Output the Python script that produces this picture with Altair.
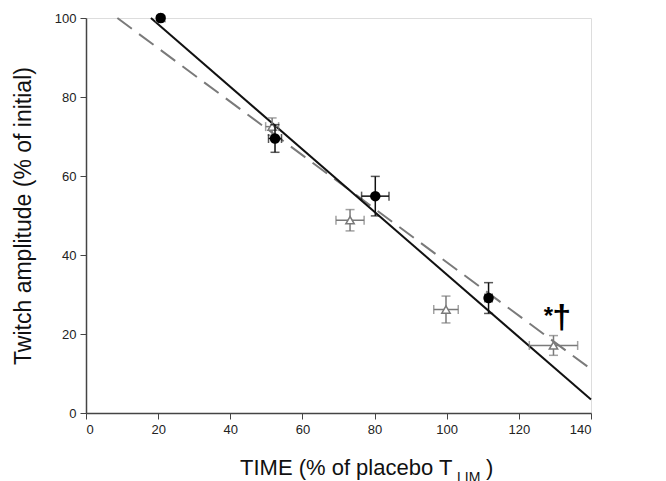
import altair as alt
import pandas as pd

# Filled circles (black)
circ_x = [20.7, 52.4, 80.2, 111.6]
circ_y = [100.0, 69.5, 54.9, 29.1]
circ_xerr = [0.6, 1.8, 3.8, 1.0]
circ_yerr = [0.6, 3.5, 5.0, 3.9]

# Open triangles (gray)
tri_x = [20.7, 51.6, 73.2, 99.8, 129.6]
tri_y = [100.0, 72.5, 48.8, 26.2, 17.1]
tri_xerr = [0.6, 1.8, 3.9, 3.4, 6.7]
tri_yerr = [0.6, 2.2, 2.7, 3.4, 2.5]

# Regression lines (end points)
solid_x = [18.0, 140.0]
solid_y = [100.0, 3.4]
dash_x = [8.7, 140.0]
dash_y = [100.0, 11.1]

x_ticks = [0, 20, 40, 60, 80, 100, 120, 140]
y_ticks = [0, 20, 40, 60, 80, 100]

# Significance annotation
ann_x = [128.2, 131.9]
ann_y = [24.3, 24.0]
ann_t = ["*", "†"]

FONT = "Liberation Sans"
GRAY = "#7a7a7a"

circ = pd.DataFrame({"x": circ_x, "y": circ_y,
                     "x1": [a - b for a, b in zip(circ_x, circ_xerr)],
                     "x2": [a + b for a, b in zip(circ_x, circ_xerr)],
                     "y1": [a - b for a, b in zip(circ_y, circ_yerr)],
                     "y2": [a + b for a, b in zip(circ_y, circ_yerr)]})
tri = pd.DataFrame({"x": tri_x, "y": tri_y,
                    "x1": [a - b for a, b in zip(tri_x, tri_xerr)],
                    "x2": [a + b for a, b in zip(tri_x, tri_xerr)],
                    "y1": [a - b for a, b in zip(tri_y, tri_yerr)],
                    "y2": [a + b for a, b in zip(tri_y, tri_yerr)]})
solid = pd.DataFrame({"x": solid_x, "y": solid_y})
dash = pd.DataFrame({"x": dash_x, "y": dash_y})

xs = alt.Scale(domain=[0, 140], nice=False, zero=False)
ys = alt.Scale(domain=[0, 100], nice=False, zero=False)

X = alt.X("x:Q", scale=xs, axis=alt.Axis(values=x_ticks, grid=False, title=None,
                                         labelFont=FONT, labelFontSize=13, labelColor="#222",
                                         domainColor="#444", tickColor="#444", tickSize=6,
                                         labelPadding=4, domainWidth=1.5))
Y = alt.Y("y:Q", scale=ys, axis=alt.Axis(values=y_ticks, grid=False,
                                         title="Twitch amplitude (% of initial)",
                                         titleFont=FONT, titleFontSize=23, titleFontWeight="normal",
                                         titleColor="#111", titlePadding=19,
                                         labelFont=FONT, labelFontSize=13, labelColor="#222",
                                         domainColor="#444", tickColor="#444", tickSize=6,
                                         labelPadding=4, domainWidth=1.5))


def errbars(df, color):
    base = alt.Chart(df)
    v = base.mark_rule(color=color, strokeWidth=1.5).encode(x="x:Q", y=alt.Y("y1:Q", scale=ys), y2="y2:Q")
    h = base.mark_rule(color=color, strokeWidth=1.5).encode(x=alt.X("x1:Q", scale=xs), x2="x2:Q", y="y:Q")
    vc1 = base.mark_tick(color=color, orient="horizontal", size=9, thickness=1.5).encode(x="x:Q", y="y1:Q")
    vc2 = base.mark_tick(color=color, orient="horizontal", size=9, thickness=1.5).encode(x="x:Q", y="y2:Q")
    hc1 = base.mark_tick(color=color, orient="vertical", size=9, thickness=1.5).encode(x="x1:Q", y="y:Q")
    hc2 = base.mark_tick(color=color, orient="vertical", size=9, thickness=1.5).encode(x="x2:Q", y="y:Q")
    return [v, h, vc1, vc2, hc1, hc2]


dash_line = alt.Chart(dash).mark_line(color=GRAY, strokeWidth=2, strokeDash=[18, 9]).encode(x=X, y=Y)
solid_line = alt.Chart(solid).mark_line(color="#111", strokeWidth=2).encode(x="x:Q", y="y:Q")

tri_pts = alt.Chart(tri).mark_point(shape="triangle-up", filled=True, fill="white", stroke=GRAY,
                                    strokeWidth=1.5, size=70, opacity=1).encode(x="x:Q", y="y:Q")
circ_pts = alt.Chart(circ).mark_point(shape="circle", filled=True, color="black", size=110,
                                      opacity=1).encode(x="x:Q", y="y:Q")

ann_df = pd.DataFrame({"x": ann_x, "y": ann_y, "t": ann_t, "s": [24, 34]})
ann = alt.Chart(ann_df).mark_text(font=FONT, fontWeight="bold", color="black").encode(
    x="x:Q", y="y:Q", text="t:N", size=alt.Size("s:Q", scale=None, legend=None))

title_main = alt.Chart(pd.DataFrame({"t": ["TIME (% of placebo T"]})).mark_text(
    font=FONT, fontSize=22, color="#111", align="left", baseline="alphabetic").encode(
    x=alt.value(154), y=alt.value(457), text="t:N")
title_sub = alt.Chart(pd.DataFrame({"t": ["LIM"]})).mark_text(
    font=FONT, fontSize=14, color="#111", align="left", baseline="alphabetic").encode(
    x=alt.value(371), y=alt.value(464), text="t:N")
title_end = alt.Chart(pd.DataFrame({"t": [")"]})).mark_text(
    font=FONT, fontSize=22, color="#111", align="left", baseline="alphabetic").encode(
    x=alt.value(400), y=alt.value(457), text="t:N")

layers = [dash_line, solid_line] + errbars(tri, GRAY) + [tri_pts] + errbars(circ, "#111") + [circ_pts, ann,
                                                                                           title_main, title_sub,
                                                                                           title_end]

chart = alt.layer(*layers).properties(
    width=505, height=395,
    autosize=alt.AutoSizeParams(type="none"),
    padding={"left": 86, "top": 18, "right": 75, "bottom": 68},
).configure_view(stroke=None).configure(background="white")

chart.save("out.html", embed_options={"renderer": "svg", "actions": False})
